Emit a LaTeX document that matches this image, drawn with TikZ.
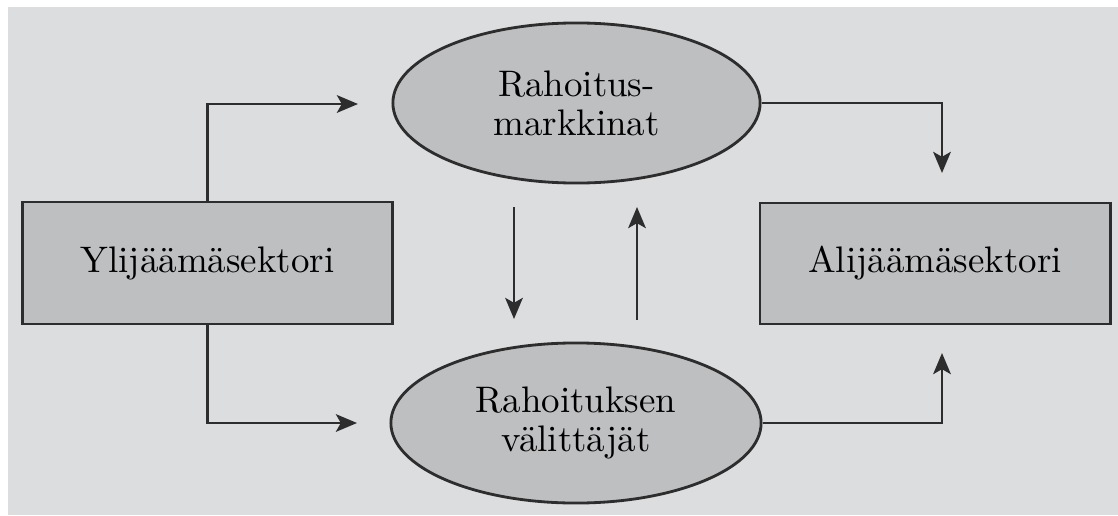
\documentclass[tikz,border=0pt]{standalone}
\usepackage{tikz}
\usetikzlibrary{shapes.geometric,arrows.meta}
\definecolor{paper}{RGB}{220,221,223}
\definecolor{shade}{RGB}{190,191,193}
\definecolor{ink}{RGB}{45,45,45}
\begin{document}
\begin{tikzpicture}[x = .01cm, y = -.01cm,
  sector/.style = {draw = ink, fill = shade, line width = .8pt, rectangle, inner sep = 0pt},
  market/.style = {draw = ink, fill = shade, line width = .8pt, ellipse, inner sep = 0pt, align = center},
  flow/.style = {draw = ink, line width = .8pt, -{Stealth[length = 6pt, width = 5pt, inset = 1.4pt]}},
  font = \fontsize{10.5}{11.1}\selectfont]
\useasboundingbox (0,0) rectangle (1118,515);
\fill[white] (0,0) rectangle (1118,515);
\fill[paper] (8,7) rectangle (1118,515);
\node[sector, minimum width = 3.69cm, minimum height = 1.22cm] (surplus) at (207.5,263) {Ylijäämäsektori};
\node[sector, minimum width = 3.50cm, minimum height = 1.21cm] (deficit) at (935,263.5) {Alijäämäsektori};
\node[market, minimum width = 3.67cm, minimum height = 1.60cm] (markets) at (576.5,103) {Rahoitus-\\markkinat};
\node[market, minimum width = 3.70cm, minimum height = 1.60cm] (brokers) at (576,423) {Rahoituksen\\välittäjät};
\coordinate (m-in) at (358,104);
\coordinate (b-in) at (357,423);
\coordinate (d-top) at (942,173);
\coordinate (d-bot) at (942,353);
\coordinate (dn-s) at (514,207);
\coordinate (dn-e) at (514,319);
\coordinate (up-s) at (637,320);
\coordinate (up-e) at (637,207);
\draw[flow] (surplus.north) |- (m-in);
\draw[flow] (surplus.south) |- (b-in);
\draw[flow] (markets.east) -| (d-top);
\draw[flow] (brokers.east) -| (d-bot);
\draw[flow] (dn-s) -- (dn-e);
\draw[flow] (up-s) -- (up-e);
\end{tikzpicture}
\end{document}
